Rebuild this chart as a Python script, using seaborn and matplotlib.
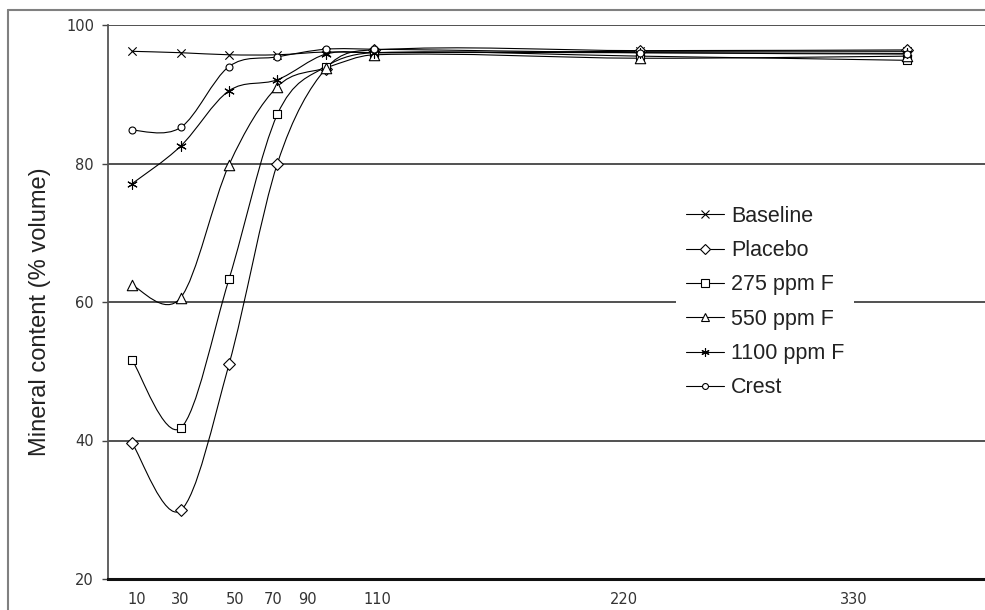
import numpy as np
import pandas as pd
import seaborn as sns
import matplotlib.pyplot as plt
from matplotlib.path import Path
from matplotlib.patches import PathPatch
from matplotlib.lines import Line2D

# ---- data ----
days = [10, 30, 50, 70, 90, 110, 220, 330]
baseline = [96.2, 96.0, 95.7, 95.7, 96.1, 96.0, 96.2, 96.2]
placebo = [39.6, 29.9, 51.0, 80.0, 93.7, 96.4, 96.3, 96.4]
ppm275 = [51.6, 41.8, 63.3, 87.1, 94.0, 96.0, 95.5, 94.9]
ppm550 = [62.4, 60.6, 79.8, 91.1, 93.8, 95.7, 95.2, 95.5]
ppm1100 = [77.1, 82.5, 90.5, 92.1, 95.8, 96.0, 96.0, 95.9]
crest = [84.8, 85.2, 94.0, 95.4, 96.5, 96.5, 96.0, 95.8]
series_names = ["Baseline", "Placebo", "275 ppm F", "550 ppm F", "1100 ppm F", "Crest"]
series_vals = [baseline, placebo, ppm275, ppm550, ppm1100, crest]
tick_labels = ["10", "30", "50", "70", "90", "110", "220", "330"]
y_ticks = [20, 40, 60, 80, 100]

# styling (positions of the hand-placed x labels, in data units)
tick_pos = [12, 29.8, 52.5, 68.2, 82.6, 111.2, 213, 308]
markers = {"Baseline": ("x", 6, "black"),
           "Placebo": ("D", 6.0, "white"),
           "275 ppm F": ("s", 6.0, "white"),
           "550 ppm F": ("^", 7.5, "white"),
           "1100 ppm F": ((6, 2, 0), 7, "black"),
           "Crest": ("o", 5.0, "white")}

df = pd.DataFrame({"day": np.tile(days, len(series_names)),
                   "value": np.concatenate(series_vals),
                   "series": np.repeat(series_names, len(days))})

sns.set_theme(style="white")
plt.rcParams["font.family"] = ["Liberation Sans", "DejaVu Sans"]

W, H = 985, 610
fig = plt.figure(figsize=(W / 100, H / 100), dpi=100)
ax = fig.add_axes([108 / W, 1 - 579 / H, 877 / W, (579 - 25) / H])


def smooth_path(x, y):
    x = np.asarray(x, float)
    y = np.asarray(y, float)
    n = len(x)
    m = np.zeros(n)
    for i in range(n):
        if 0 < i < n - 1:
            m[i] = (y[i + 1] - y[i - 1]) / (x[i + 1] - x[i - 1])
    verts = [(x[0], y[0])]
    codes = [Path.MOVETO]
    for i in range(n - 1):
        h = x[i + 1] - x[i]
        if i == 0:
            c1 = (x[0] + h / 6, y[0] + (y[1] - y[0]) / 6)
        else:
            c1 = (x[i] + h / 3, y[i] + m[i] * h / 3)
        if i + 1 == n - 1:
            c2 = (x[i + 1] - h / 6, y[i + 1] - (y[i + 1] - y[i]) / 6)
        else:
            c2 = (x[i + 1] - h / 3, y[i + 1] - m[i + 1] * h / 3)
        verts += [c1, c2, (x[i + 1], y[i + 1])]
        codes += [Path.CURVE4] * 3
    return Path(verts, codes)


for name in series_names:
    sub = df[df.series == name]
    ax.add_patch(PathPatch(smooth_path(sub.day, sub.value), facecolor="none",
                           edgecolor="black", lw=0.8, zorder=3,
                           transform=ax.transData))
    mk, ms, fc = markers[name]
    sns.scatterplot(data=sub, x="day", y="value", marker=mk, s=ms ** 2,
                    color=fc, edgecolor="black", linewidth=0.8, ax=ax,
                    zorder=4, legend=False)

ax.set_xlim(0, 877 / 2.42)
ax.set_ylim(20, 100)
ax.set_yticks(y_ticks)
ax.set_xticks(tick_pos)
ax.set_xticklabels(tick_labels)
ax.set_xlabel("")
ax.set_ylabel("")
ax.grid(False)
for yv in y_ticks[1:]:
    ax.axhline(yv, color="#222222", lw=1.1, zorder=1)

ax.tick_params(axis="y", direction="out", length=4, width=1, color="#444444",
               pad=6, labelsize=10.5, labelcolor="#333333", left=True)
ax.tick_params(axis="x", length=0, pad=9, labelsize=10.5, labelcolor="#333333")
for lab in ax.get_xticklabels() + ax.get_yticklabels():
    lab.set_fontfamily("DejaVu Sans")
ax.spines["right"].set_visible(False)
ax.spines["top"].set_visible(False)
ax.spines["left"].set_color("#555555")
ax.spines["left"].set_linewidth(1.3)
ax.spines["bottom"].set_color("#111111")
ax.spines["bottom"].set_linewidth(2.2)

fig.text(40 / W, 1 - 312 / H, "Mineral content (% volume)", rotation=90,
         ha="center", va="center", fontsize=17, color="#222222")

# outer chart border
fig.add_artist(Line2D([8 / W, 1], [1 - 10 / H, 1 - 10 / H], color="#808080",
                      lw=1.5, transform=fig.transFigure))
fig.add_artist(Line2D([8 / W, 8 / W], [1 - 10 / H, 0], color="#808080",
                      lw=1.5, transform=fig.transFigure))

handles = []
for name in series_names:
    mk, ms, fc = markers[name]
    handles.append(Line2D([], [], color="black", lw=0.8, marker=mk,
                          markersize=ms * 0.85, markerfacecolor=fc,
                          markeredgecolor="black", markeredgewidth=0.8))
leg = ax.legend(handles, series_names, loc="upper left",
                bbox_to_anchor=(676 / W, 1 - 196 / H),
                bbox_transform=fig.transFigure, borderaxespad=0,
                frameon=True, fancybox=False, framealpha=1,
                facecolor="white", edgecolor="none", fontsize=15.5,
                borderpad=0.45, handlelength=1.8, handletextpad=0.3,
                labelspacing=0.62)
for t in leg.get_texts():
    t.set_color("#222222")
leg.set_zorder(5)

fig.savefig("out.png", dpi=100)
